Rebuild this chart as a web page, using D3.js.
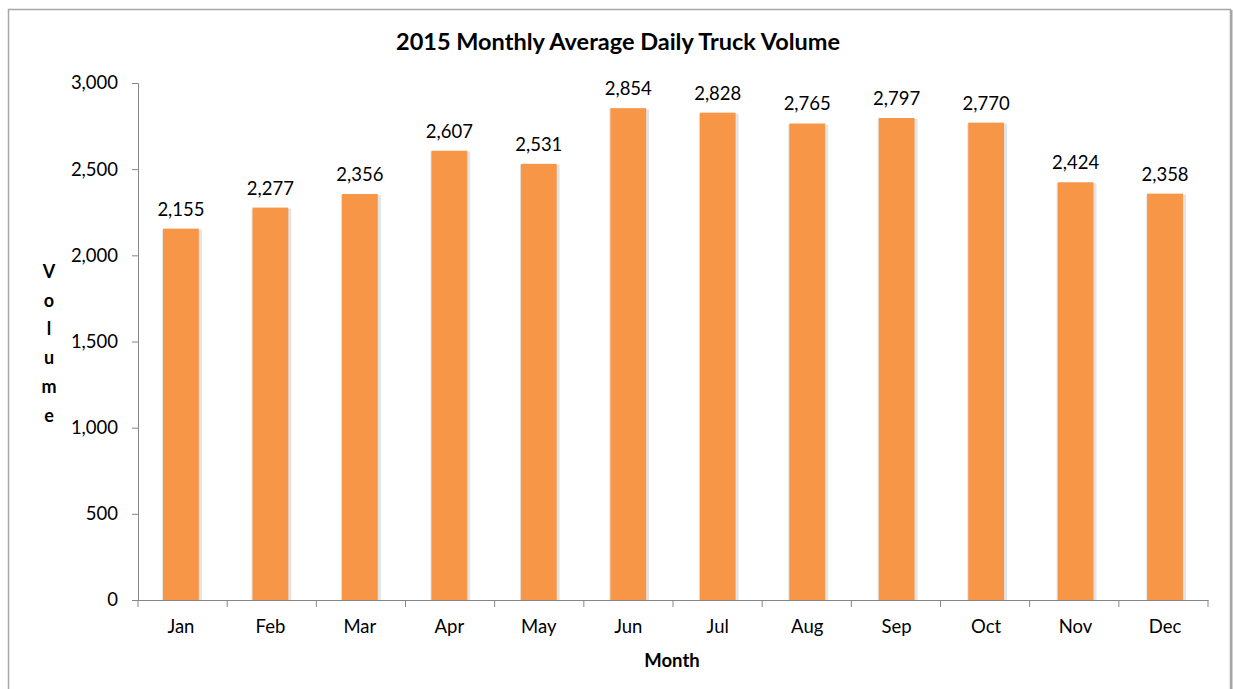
<!DOCTYPE html>
<html>
<head>
<meta charset="utf-8">
<script src="https://cdn.jsdelivr.net/npm/d3@7"></script>
<style>
	body { margin: 0; background: #fff; }
	text { font-family: Lato, "Open Sans", sans-serif; fill: #000; }
	.axis path, .axis line { stroke: #868686; }
</style>
</head>
<body>
<div id="chart"></div>
<script>
var months = ["Jan", "Feb", "Mar", "Apr", "May", "Jun", "Jul", "Aug", "Sep", "Oct", "Nov", "Dec"];
var volumes = [2155, 2277, 2356, 2607, 2531, 2854, 2828, 2765, 2797, 2770, 2424, 2358];
var yTicks = [0, 500, 1000, 1500, 2000, 2500, 3000];
var yLabel = "Volume";

var width = 1233, height = 689;
var margin = {top: 83, right: 25, bottom: 89, left: 138};

var svg = d3.select("#chart").append("svg")
	.attr("width", width)
	.attr("height", height);

// chart frame, right side a little heavier
svg.append("rect")
	.attr("x", 8.5)
	.attr("y", 9.5)
	.attr("width", 1222)
	.attr("height", 700)
	.attr("fill", "#fff")
	.attr("stroke", "#a6a6a6")
	.attr("stroke-width", 1.5);
svg.append("line")
	.attr("x1", 1231.5).attr("x2", 1231.5)
	.attr("y1", 10).attr("y2", 689)
	.attr("stroke", "#a6a6a6")
	.attr("stroke-width", 2);

var x = d3.scaleBand()
	.domain(months)
	.range([margin.left, width - margin.right])
	.paddingInner(0.6)
	.paddingOuter(0.28);

var y = d3.scaleLinear()
	.domain([0, 3000])
	.range([height - margin.bottom, margin.top]);

// bar shadows
svg.append("g")
	.selectAll("rect")
	.data(volumes)
	.enter()
		.append("rect")
		.attr("x", function(d, i) { return x(months[i]) - 1; })
		.attr("y", function(d) { return y(d) + 1; })
		.attr("width", x.bandwidth() + 4)
		.attr("height", function(d) { return y(0) - y(d) - 1; })
		.attr("fill", "#e3e3e3");

svg.append("g")
	.selectAll("rect")
	.data(volumes)
	.enter()
		.append("rect")
		.attr("x", function(d, i) { return x(months[i]); })
		.attr("y", function(d) { return y(d); })
		.attr("width", x.bandwidth())
		.attr("height", function(d) { return y(0) - y(d); })
		.attr("fill", "#f79646");

// value labels
svg.append("g")
	.selectAll("text")
	.data(volumes)
	.enter()
		.append("text")
		.attr("text-anchor", "middle")
		.attr("x", function(d, i) { return x(months[i]) + x.bandwidth() / 2; })
		.attr("y", function(d) { return y(d) - 13; })
		.attr("font-size", "18.5px")
		.text(function(d) { return d3.format(",")(d); });

// y axis
var yAxis = svg.append("g")
	.attr("class", "axis")
	.attr("transform", "translate(" + margin.left + ",0)")
	.call(d3.axisLeft(y).tickValues(yTicks).tickSize(6).tickSizeOuter(6).tickPadding(14).tickFormat(d3.format(",")));
yAxis.selectAll("text").attr("font-size", "18.5px").attr("fill", "#000");

// x axis with ticks at the band edges
var xAxis = svg.append("g")
	.attr("class", "axis")
	.attr("transform", "translate(0," + y(0) + ")")
	.call(d3.axisBottom(x).tickSize(0).tickSizeOuter(0).tickPadding(20));
xAxis.selectAll("text").attr("font-size", "18.5px").attr("fill", "#000");
var edges = d3.range(months.length + 1).map(function(i) { return margin.left + i * (width - margin.right - margin.left) / months.length; });
xAxis.selectAll(".edge")
	.data(edges)
	.enter()
		.append("line")
		.attr("class", "edge")
		.attr("x1", function(d) { return d; })
		.attr("x2", function(d) { return d; })
		.attr("y1", 0)
		.attr("y2", 7)
		.attr("stroke", "#868686");

// titles
svg.append("text")
	.attr("x", 618)
	.attr("y", 50)
	.attr("text-anchor", "middle")
	.attr("font-size", "23.5px")
	.attr("font-weight", "bold")
	.text("2015 Monthly Average Daily Truck Volume");

svg.append("text")
	.attr("x", 672)
	.attr("y", 667)
	.attr("text-anchor", "middle")
	.attr("font-size", "18.5px")
	.attr("font-weight", "bold")
	.text("Month");

// stacked vertical letters for the y label
svg.append("g")
	.selectAll("text")
	.data(yLabel.split(""))
	.enter()
		.append("text")
		.attr("x", 49)
		.attr("y", function(d, i) { return 278 + i * 28.7; })
		.attr("text-anchor", "middle")
		.attr("font-size", "18px")
		.attr("font-weight", "bold")
		.text(function(d) { return d; });
</script>
</body>
</html>
